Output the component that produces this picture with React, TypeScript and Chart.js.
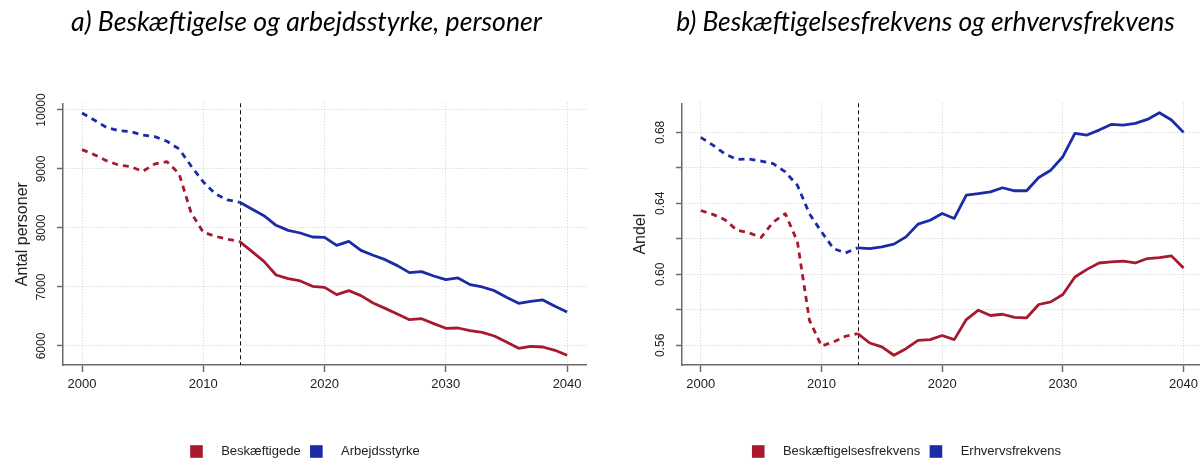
import React, { useEffect, useRef } from 'react';
import { Chart, registerables } from 'chart.js';

Chart.register(...registerables);

// ---------- data ----------
const years = [
  2000, 2001, 2002, 2003, 2004, 2005, 2006, 2007, 2008, 2009,
  2010, 2011, 2012, 2013, 2014, 2015, 2016, 2017, 2018, 2019,
  2020, 2021, 2022, 2023, 2024, 2025, 2026, 2027, 2028, 2029,
  2030, 2031, 2032, 2033, 2034, 2035, 2036, 2037, 2038, 2039, 2040,
];

const beskaeftigede = [
  9328, 9243, 9141, 9068, 9040, 8960, 9085, 9124, 8920, 8254,
  7927, 7859, 7810, 7768, 7605, 7435, 7203, 7141, 7102, 7011,
  6994, 6870, 6938, 6853, 6729, 6638, 6542, 6446, 6463, 6379,
  6300, 6305, 6260, 6232, 6170, 6068, 5960, 5994, 5983, 5927, 5842,
];

const arbejdsstyrke = [
  9949, 9830, 9706, 9650, 9633, 9576, 9548, 9469, 9339, 9050,
  8780, 8576, 8475, 8435, 8322, 8209, 8045, 7960, 7915, 7847,
  7842, 7706, 7774, 7621, 7537, 7463, 7362, 7243, 7260, 7186,
  7124, 7153, 7040, 7000, 6938, 6825, 6723, 6757, 6780, 6672, 6576,
];

const beskaeftigelsesfrekvens = [
  0.6360, 0.6338, 0.6308, 0.6248, 0.6234, 0.6208, 0.6295, 0.6342, 0.6185, 0.5741,
  0.5596, 0.5619, 0.5651, 0.5666, 0.5613, 0.5591, 0.5544, 0.5581, 0.5628, 0.5632,
  0.5655, 0.5632, 0.5745, 0.5798, 0.5768, 0.5775, 0.5757, 0.5755, 0.5830, 0.5845,
  0.5886, 0.5985, 0.6028, 0.6064, 0.6070, 0.6074, 0.6064, 0.6089, 0.6094, 0.6104, 0.6036,
];

const erhvervsfrekvens = [
  0.6772, 0.6728, 0.6678, 0.6648, 0.6650, 0.6638, 0.6624, 0.6577, 0.6502, 0.6342,
  0.6239, 0.6145, 0.6121, 0.6149, 0.6145, 0.6155, 0.6170, 0.6211, 0.6283, 0.6305,
  0.6343, 0.6315, 0.6446, 0.6455, 0.6465, 0.6488, 0.6471, 0.6471, 0.6546, 0.6587,
  0.6663, 0.6794, 0.6785, 0.6813, 0.6845, 0.6841, 0.6851, 0.6873, 0.6911, 0.6870, 0.6800,
];

const projectionStartYear = 2013;

const xTicks = [2000, 2010, 2020, 2030, 2040];
const yTicksA = [6000, 7000, 8000, 9000, 10000];
const yTickLabelsA = ['6000', '7000', '8000', '9000', '10000'];
const yTicksB = [0.56, 0.58, 0.60, 0.62, 0.64, 0.66, 0.68];
const yTickLabelsB = ['0.56', '', '0.60', '', '0.64', '', '0.68'];

const titleA = 'a) Beskæftigelse og arbejdsstyrke, personer';
const titleB = 'b) Beskæftigelsesfrekvens og erhvervsfrekvens';
const yTitleA = 'Antal personer';
const yTitleB = 'Andel';
const labelsA = ['Beskæftigede', 'Arbejdsstyrke'];
const labelsB = ['Beskæftigelsesfrekvens', 'Erhvervsfrekvens'];

// ---------- styles ----------
const RED = '#A6192E';
const BLUE = '#1B2AA6';
const AXIS = '#6a6a6a';
const GRID = '#cdcdcd';
const TEXT = '#222222';
const SANS = '"Liberation Sans", Arial, sans-serif';

type PanelProps = {
  width: number;
  left: number;
  title: string;
  titleCx: number;
  titleWidth: number;
  yTitle: string;
  yTitleCx: number;
  yAxisWidth: number;
  padRight: number;
  xMin: number;
  xMax: number;
  yMin: number;
  yMax: number;
  yTicks: number[];
  yTickLabels: string[];
  labels: string[];
  series: number[][];
};

function Panel(p: PanelProps) {
  const ref = useRef<HTMLCanvasElement | null>(null);

  useEffect(() => {
    if (!ref.current) return;
    const colors = [RED, BLUE];

    const decor = {
      id: 'decor',
      beforeDatasetsDraw(chart: any) {
        const { ctx, chartArea, scales } = chart;
        const x = Math.round(scales.x.getPixelForValue(projectionStartYear)) + 0.5;
        ctx.save();
        ctx.strokeStyle = '#111';
        ctx.lineWidth = 1;
        ctx.setLineDash([4, 3]);
        ctx.beginPath();
        ctx.moveTo(x, chartArea.top);
        ctx.lineTo(x, chartArea.bottom);
        ctx.stroke();
        ctx.restore();
      },
      afterDraw(chart: any) {
        const { ctx, chartArea, scales } = chart;
        const ys = scales.y;
        ctx.save();
        // y tick labels (rotated, R style)
        ctx.fillStyle = TEXT;
        ctx.font = `12px ${SANS}`;
        ctx.textAlign = 'center';
        ctx.textBaseline = 'middle';
        p.yTicks.forEach((v, i) => {
          const lab = p.yTickLabels[i];
          if (!lab) return;
          const py = ys.getPixelForValue(v);
          ctx.save();
          ctx.translate(chartArea.left - 21, py);
          ctx.rotate(-Math.PI / 2);
          ctx.fillText(lab, 0, 0);
          ctx.restore();
        });
        // y axis title
        ctx.font = `16px ${SANS}`;
        ctx.save();
        ctx.translate(p.yTitleCx, (chartArea.top + chartArea.bottom) / 2);
        ctx.rotate(-Math.PI / 2);
        ctx.fillText(p.yTitle, 0, 0);
        ctx.restore();
        // panel title
        ctx.font = `italic 100px Lato, "Open Sans", sans-serif`;
        const w100 = ctx.measureText(p.title).width;
        const size = (100 * p.titleWidth) / w100;
        ctx.font = `italic ${size}px Lato, "Open Sans", sans-serif`;
        ctx.fillStyle = '#000';
        ctx.fillText(p.title, p.titleCx, 22);
        // legend
        ctx.font = `13px ${SANS}`;
        ctx.fillStyle = TEXT;
        ctx.textAlign = 'left';
        const box = 12.6;
        const gapText = 18.4;
        const gapItem = 9.4;
        const ws = chart.data.datasets.map((d: any) => ctx.measureText(d.label).width);
        const total = ws.reduce((a: number, b: number) => a + b, 0) + ws.length * (box + gapText) + gapItem * (ws.length - 1);
        let lx = chart.width / 2 + 4.5 - total / 2;
        const cy = 451.5;
        chart.data.datasets.forEach((d: any, i: number) => {
          ctx.fillStyle = d.borderColor;
          ctx.fillRect(lx, cy - box / 2, box, box);
          lx += box + gapText;
          ctx.fillStyle = TEXT;
          ctx.fillText(d.label, lx, cy);
          lx += ws[i] + gapItem;
        });
        ctx.restore();
      },
    };

    const chart = new Chart(ref.current, {
      type: 'line',
      data: {
        datasets: p.series.map((vals, i) => ({
          label: p.labels[i],
          data: years.map((yr, j) => ({ x: yr, y: vals[j] })),
          borderColor: colors[i],
          backgroundColor: colors[i],
          borderWidth: 2.8,
          pointRadius: 0,
          tension: 0,
          borderCapStyle: 'butt',
          borderJoinStyle: 'round',
          segment: {
            borderDash: (c: any) => (c.p1DataIndex <= years.indexOf(projectionStartYear) ? [6, 5] : undefined),
          },
        })),
      },
      options: {
        responsive: false,
        animation: false,
        devicePixelRatio: 1,
        layout: { padding: { top: 103.3, right: p.padRight, bottom: 0, left: 0 } },
        plugins: {
          legend: { display: false },
          title: { display: false },
          tooltip: { enabled: false },
        },
        scales: {
          x: {
            type: 'linear',
            min: p.xMin,
            max: p.xMax,
            afterBuildTicks: (s: any) => {
              s.ticks = xTicks.map((v) => ({ value: v }));
            },
            afterFit: (s: any) => {
              s.height = 94;
            },
            ticks: {
              autoSkip: false,
              maxRotation: 0,
              padding: 5,
              color: TEXT,
              font: { family: SANS, size: 13 },
              callback: (v: any) => String(v),
            },
            grid: {
              color: GRID,
              lineWidth: 1,
              tickLength: 7,
              tickColor: AXIS,
              tickWidth: 1.5,
              tickBorderDash: [],
            },
            border: { display: true, color: AXIS, width: 1.5, dash: [1, 2] },
          },
          y: {
            type: 'linear',
            min: p.yMin,
            max: p.yMax,
            afterBuildTicks: (s: any) => {
              s.ticks = p.yTicks.map((v) => ({ value: v }));
            },
            afterFit: (s: any) => {
              s.width = p.yAxisWidth;
            },
            ticks: {
              display: false,
            },
            grid: {
              color: GRID,
              lineWidth: 1,
              tickLength: 6,
              tickColor: AXIS,
              tickWidth: 1.5,
              tickBorderDash: [],
            },
            border: { display: true, color: AXIS, width: 1.5, dash: [1, 2] },
          },
        },
      },
      plugins: [decor],
    } as any);

    return () => chart.destroy();
  }, []);

  return (
    <canvas
      ref={ref}
      width={p.width}
      height={459}
      style={{ position: 'absolute', left: p.left, top: 0, width: p.width, height: 459 }}
    />
  );
}

export default function App() {
  return (
    <div style={{ position: 'absolute', left: 0, top: 0, width: 1203, height: 459, background: '#fff', overflow: 'hidden' }}>
      <Panel
        width={601}
        left={0}
        title={titleA}
        titleCx={306.5}
        titleWidth={471}
        yTitle={yTitleA}
        yTitleCx={23}
        yAxisWidth={63}
        padRight={14.5}
        xMin={1998.43}
        xMax={2041.6}
        yMin={5678}
        yMax={10113}
        yTicks={yTicksA}
        yTickLabels={yTickLabelsA}
        labels={labelsA}
        series={[beskaeftigede, arbejdsstyrke]}
      />
      <Panel
        width={602}
        left={601}
        title={titleB}
        titleCx={324.5}
        titleWidth={499}
        yTitle={yTitleB}
        yTitleCx={40}
        yAxisWidth={81}
        padRight={0}
        xMin={1998.44}
        xMax={2041.32}
        yMin={0.5489}
        yMax={0.6964}
        yTicks={yTicksB}
        yTickLabels={yTickLabelsB}
        labels={labelsB}
        series={[beskaeftigelsesfrekvens, erhvervsfrekvens]}
      />
    </div>
  );
}
